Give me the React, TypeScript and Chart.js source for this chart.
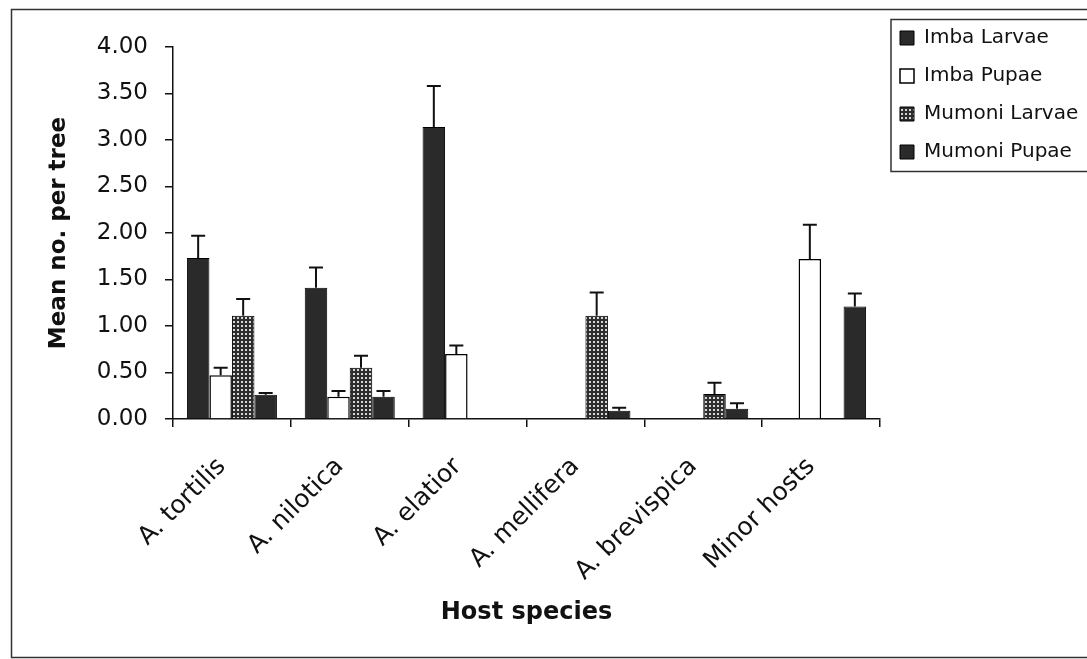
import React, { useEffect, useRef } from "react";
import { Chart, registerables } from "chart.js";

Chart.register(...registerables);

const categories = ["A. tortilis", "A. nilotica", "A. elatior", "A. mellifera", "A. brevispica", "Minor hosts"];
const seriesNames = ["Imba Larvae", "Imba Pupae", "Mumoni Larvae", "Mumoni Pupae"];

const imbaLarvae = [1.73, 1.41, 3.14, null, null, null];
const imbaLarvaeErr = [0.24, 0.22, 0.44, null, null, null];
const imbaPupae = [0.47, 0.24, 0.70, null, null, 1.72];
const imbaPupaeErr = [0.08, 0.06, 0.09, null, null, 0.37];
const mumoniLarvae = [1.11, 0.55, null, 1.11, 0.27, null];
const mumoniLarvaeErr = [0.18, 0.13, null, 0.25, 0.12, null];
const mumoniPupae = [0.26, 0.24, null, 0.09, 0.11, 1.21];
const mumoniPupaeErr = [0.02, 0.06, null, 0.03, 0.06, 0.14];

const yMin = 0;
const yMax = 4;
const yStep = 0.5;
const xTitle = "Host species";
const yTitle = "Mean no. per tree";

const FONT = "'DejaVu Sans', sans-serif";
const INK = "#111111";

export default function App() {
  const ref = useRef<HTMLCanvasElement | null>(null);

  useEffect(() => {
    const canvas = ref.current;
    if (!canvas) return;
    const ctx0 = canvas.getContext("2d")!;

    const pc = document.createElement("canvas");
    pc.width = 4;
    pc.height = 4;
    const p = pc.getContext("2d")!;
    p.fillStyle = "#2e2e2e";
    p.fillRect(0, 0, 4, 4);
    p.fillStyle = "#d6d6d6";
    p.fillRect(1, 1, 2, 2);
    const pattern = ctx0.createPattern(pc, "repeat")!;

    const errs = [imbaLarvaeErr, imbaPupaeErr, mumoniLarvaeErr, mumoniPupaeErr];

    const errorBars = {
      id: "errorBars",
      afterDatasetsDraw(chart: any) {
        const ctx = chart.ctx;
        const ys = chart.scales.y;
        chart.data.datasets.forEach((ds: any, di: number) => {
          const meta = chart.getDatasetMeta(di);
          meta.data.forEach((bar: any, i: number) => {
            const v = ds.data[i];
            const e = errs[di][i];
            if (v == null || e == null) return;
            const x = bar.x;
            const top = ys.getPixelForValue(v);
            const end = ys.getPixelForValue(v + e);
            ctx.save();
            ctx.strokeStyle = INK;
            ctx.lineWidth = 2;
            ctx.beginPath();
            ctx.moveTo(x, top);
            ctx.lineTo(x, end);
            ctx.moveTo(x - 7, end);
            ctx.lineTo(x + 7, end);
            ctx.stroke();
            ctx.restore();
          });
        });
      },
    };

    const frame = {
      id: "frame",
      beforeDraw(chart: any) {
        const ctx = chart.ctx;
        ctx.save();
        ctx.fillStyle = "#ffffff";
        ctx.fillRect(0, 0, chart.width, chart.height);
        ctx.restore();
      },
      afterDraw(chart: any) {
        const ctx = chart.ctx;
        ctx.save();
        ctx.strokeStyle = "#333333";
        ctx.lineWidth = 1.5;
        ctx.strokeRect(11.5, 9.5, 1100, 648);
        ctx.strokeRect(891, 19.5, 220, 152);
        ctx.restore();
      },
    };

    const legendPlace = {
      id: "legendPlace",
      afterLayout(chart: any) {
        const lg = chart.legend;
        if (!lg) return;
        lg.left = 882;
        lg.top = 10;
        lg.right = 1087;
        lg.bottom = 200;
        lg.width = 205;
        lg.height = 190;
      },
    };

    const chart = new Chart(canvas, {
      type: "bar",
      data: {
        labels: categories,
        datasets: [
          { label: seriesNames[0], data: imbaLarvae, backgroundColor: "#2a2a2a", borderColor: "#000", borderWidth: 1 },
          { label: seriesNames[1], data: imbaPupae, backgroundColor: "#ffffff", borderColor: "#000", borderWidth: 1.5 },
          { label: seriesNames[2], data: mumoniLarvae, backgroundColor: pattern as any, borderColor: "#000", borderWidth: 1 },
          { label: seriesNames[3], data: mumoniPupae, backgroundColor: "#2a2a2a", borderColor: "#000", borderWidth: 1 },
        ],
      },
      options: {
        animation: false,
        responsive: false,
        devicePixelRatio: 1,
        datasets: { bar: { categoryPercentage: 0.764, barPercentage: 1 } },
        layout: { padding: { top: 47, right: 207, left: 0, bottom: 0 } },
        plugins: {
          tooltip: { enabled: false },
          legend: {
            position: "chartArea" as any,
            align: "start",
            labels: {
              boxWidth: 14,
              boxHeight: 14,
              padding: 18,
              color: INK,
              font: { family: FONT, size: 20 },
            },
          },
        },
        scales: {
          x: {
            offset: true,
            grid: { display: true, drawOnChartArea: false, drawTicks: true, tickLength: 8, color: INK, lineWidth: 1.5, offset: true },
            border: { display: true, color: INK, width: 1.5 },
            ticks: { minRotation: 45, maxRotation: 45, color: INK, padding: 25, labelOffset: -10, font: { family: FONT, size: 25 } },
            title: { display: true, text: xTitle, color: INK, font: { family: FONT, size: 24, weight: "bold" }, padding: { top: 0, bottom: 32 } },
            afterFit(s: any) {
              s.height = 240;
            },
          },
          y: {
            min: yMin,
            max: yMax,
            grid: { display: true, drawOnChartArea: false, drawTicks: true, tickLength: 8, color: INK, lineWidth: 1.5 },
            border: { display: true, color: INK, width: 1.5 },
            ticks: {
              stepSize: yStep,
              color: INK,
              padding: 17,
              font: { family: FONT, size: 23 },
              callback: (v: any) => Number(v).toFixed(2),
            },
            title: { display: true, text: yTitle, color: INK, font: { family: FONT, size: 23, weight: "bold" }, padding: { top: 45, bottom: 0 } },
            afterFit(s: any) {
              s.width = 173;
            },
          },
        },
      },
      plugins: [frame, legendPlace, errorBars],
    } as any);

    return () => chart.destroy();
  }, []);

  return (
    <div style={{ position: "fixed", left: 0, top: 0, width: 1087, height: 659, background: "#fff" }}>
      <canvas ref={ref} width={1087} height={659} style={{ display: "block", width: 1087, height: 659 }} />
    </div>
  );
}
